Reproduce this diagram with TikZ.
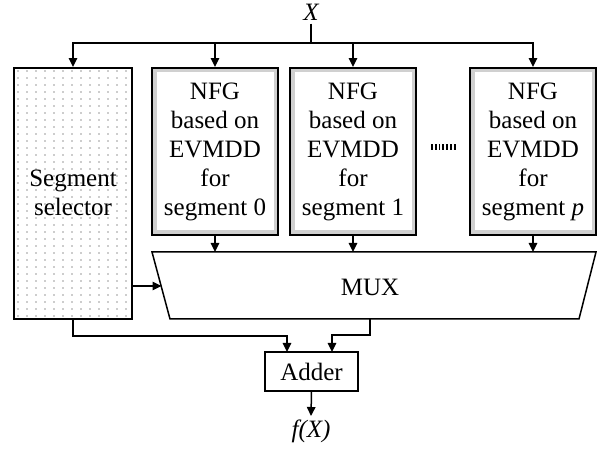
\documentclass[tikz,border=0pt]{standalone}
\usepackage{fontspec}
\setmainfont{Liberation Serif}
\usetikzlibrary{arrows.meta,patterns}
\pgfdeclarepatternformonly{sparsedots}{\pgfpoint{-1pt}{-1pt}}{\pgfpoint{10pt}{8pt}}{\pgfpoint{9pt}{7pt}}{%
  \pgfpathcircle{\pgfpoint{0pt}{0pt}}{0.65pt}\pgfusepath{fill}}
\pgfdeclarepatternformonly{densedots}{\pgfpoint{-1pt}{-1pt}}{\pgfpoint{3pt}{3pt}}{\pgfpoint{2pt}{2pt}}{%
  \pgfpathcircle{\pgfpoint{0pt}{0pt}}{0.65pt}\pgfusepath{fill}}
\begin{document}
\begin{tikzpicture}[x=1pt,y=-1pt,
  txt/.style={font=\fontsize{25}{29}\selectfont},
  box/.style={draw,line width=1.9pt,inner sep=0pt},
  nfgbox/.style={box,minimum width=126pt,minimum height=167pt,pattern=densedots,pattern color=black!80},
  inner/.style={fill=white,inner sep=0pt,minimum width=117pt,minimum height=158pt,txt,align=center},
  conn/.style={line width=1.5pt},
  arr/.style={conn,-{Triangle[length=9pt,width=8.5pt]}}
]
\useasboundingbox (0,0) rectangle (598,449);
% input
\node[txt,font=\fontsize{25}{29}\selectfont\itshape] (X) at (311,12) {X};
\coordinate (bus) at (311,43);
% segment selector
\node[box,minimum width=118pt,minimum height=251pt,pattern=sparsedots,pattern color=black!85] (segsel) at (73,193.5) {};
\node[txt,align=center] (segtxt) at (73,192.5) {Segment\\selector};
% NFG boxes
\node[nfgbox] (nfg0) at (215,151.5) {};
\node[inner] (t0) at (215,151.5) {NFG\\based on\\EVMDD\\for\\segment 0};
\node[nfgbox] (nfg1) at (353,151.5) {};
\node[inner] (t1) at (353,151.5) {NFG\\based on\\EVMDD\\for\\segment 1};
\node[nfgbox] (nfgp) at (533,151.5) {};
\node[inner] (tp) at (533,151.5) {NFG\\based on\\EVMDD\\for\\segment \textit{p}};
\draw[line width=6pt,dash pattern=on 1.8pt off 2pt] (431,147) -- (457,147);
% MUX
\draw[line width=1.5pt] (152,252) -- (596,252) -- (579,319) -- (170,319) -- cycle;
\node[txt] (mux) at (370,287) {MUX};
\coordinate (muxtop) at (0,252);
\coordinate (muxin) at (161.5,286);
\coordinate (mo) at (370,319);
% adder
\node[draw,line width=1.5pt,minimum width=93pt,minimum height=39pt,inner sep=0pt,txt] (adder) at (311.5,371.5) {Adder};
\coordinate (in1) at (287,352);
\coordinate (in2) at (332,352);
\coordinate (b1) at (287,336);
\coordinate (b2) at (370,335);
\node[txt,font=\fontsize{25}{29}\selectfont\itshape] (out) at (311,431) {f(X)};
% connectors
\draw[conn] (X) -- (bus);
\draw[arr] (bus) -| (segsel.north);
\draw[arr] (bus) -| (nfg0.north);
\draw[arr] (bus) -| (nfg1.north);
\draw[arr] (bus) -| (nfgp.north);
\draw[arr] (nfg0.south) -- (nfg0.south |- muxtop);
\draw[arr] (nfg1.south) -- (nfg1.south |- muxtop);
\draw[arr] (nfgp.south) -- (nfgp.south |- muxtop);
\draw[arr] (segsel.east |- muxin) -- (muxin);
\draw[arr] (segsel.south) |- (b1) -- (in1);
\draw[arr] (mo) -- (b2) -| (in2);
\draw[arr] (adder.south) -- (out.north);
\end{tikzpicture}
\end{document}
